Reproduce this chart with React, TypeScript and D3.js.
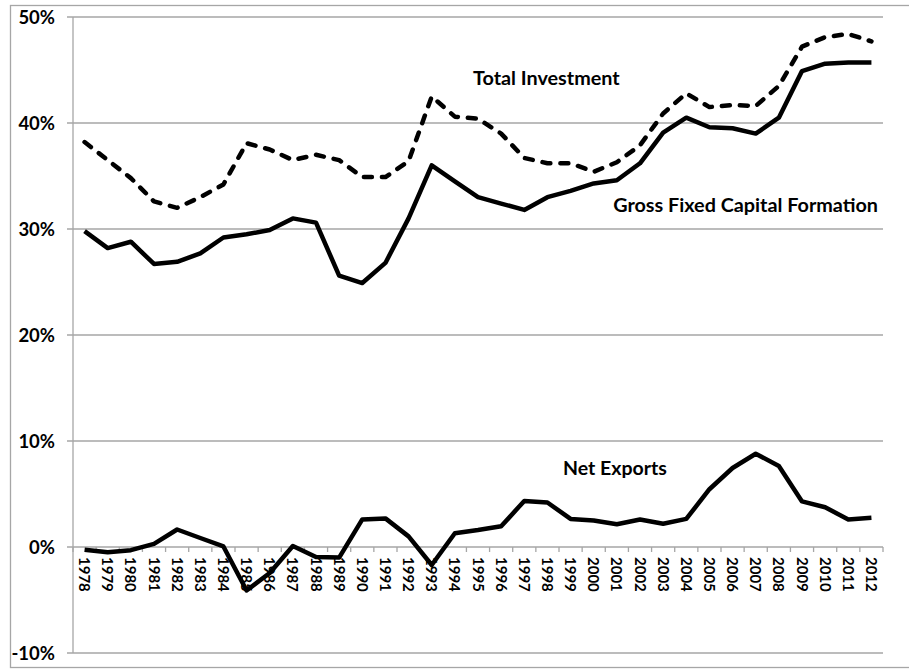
import React from "react";
import * as d3 from "d3";

const years = d3.range(1978, 2013).map(String);

// % of GDP
const totalInvestment = [
  38.2, 36.5, 34.8, 32.6, 32.0, 33.0, 34.2, 38.1, 37.5, 36.5, 37.0, 36.5, 34.9, 34.9, 36.4, 42.5, 40.6,
  40.4, 39.0, 36.7, 36.2, 36.2, 35.4, 36.3, 37.9, 40.9, 42.8, 41.5, 41.7, 41.6, 43.5, 47.2, 48.1, 48.4,
  47.7,
];
const grossFixedCapital = [
  29.8, 28.2, 28.8, 26.7, 26.9, 27.7, 29.2, 29.5, 29.9, 31.0, 30.6, 25.6, 24.9, 26.8, 31.0, 36.0, 34.5,
  33.0, 32.4, 31.8, 33.0, 33.6, 34.3, 34.6, 36.2, 39.1, 40.5, 39.6, 39.5, 39.0, 40.5, 44.9, 45.6, 45.7,
  45.7,
];
const netExports = [
  -0.25, -0.5, -0.3, 0.3, 1.65, 0.85, 0.05, -4.1, -2.45, 0.1, -0.95, -1.0, 2.6, 2.7, 1.0, -1.7, 1.3,
  1.6, 1.95, 4.35, 4.2, 2.65, 2.5, 2.15, 2.6, 2.2, 2.65, 5.45, 7.45, 8.8, 7.65, 4.3, 3.75, 2.6, 2.75,
];
const yTicks = [-10, 0, 10, 20, 30, 40, 50];

const W = 909;
const H = 670;
const margin = { left: 73, right: 26, top: 17, bottom: 17 };

const App = () => {
  const x = d3
    .scaleBand()
    .domain(years)
    .range([margin.left, W - margin.right]);
  const y = d3
    .scaleLinear()
    .domain([-10, 50])
    .range([H - margin.bottom, margin.top]);

  const cx = (i: number) => (x(years[i]) as number) + x.bandwidth() / 2;
  const line = d3
    .line<number>()
    .x((d, i) => cx(i))
    .y((d) => y(d));

  const grid = "#a6a6a6";
  const font = "Lato, 'Open Sans', sans-serif";

  return (
    <svg
      width={W}
      height={H}
      style={{ position: "absolute", left: 0, top: 0, background: "#fff" }}
      fontFamily={font}
    >
      {/* chart border */}
      <rect x={10.5} y={5.5} width={920} height={662} fill="none" stroke={grid} strokeWidth={1.3} />

      {/* gridlines + y labels */}
      {yTicks.map((t) => (
        <g key={t}>
          <line x1={margin.left - 6} x2={W - margin.right} y1={y(t)} y2={y(t)} stroke={grid} strokeWidth={1.3} />
          <text
            x={55}
            y={y(t)}
            dy="0.36em"
            textAnchor="end"
            fontSize={18.5}
            fontWeight="bold"
            fill="#000"
          >
            {t + "%"}
          </text>
        </g>
      ))}
      <line x1={margin.left} x2={margin.left} y1={y(50)} y2={y(-10)} stroke={grid} strokeWidth={1.3} />

      {/* x ticks on the zero line */}
      {years.map((yr) => (
        <line
          key={"t" + yr}
          x1={x(yr) as number}
          x2={x(yr) as number}
          y1={y(0)}
          y2={y(0) + 5}
          stroke={grid}
          strokeWidth={1.3}
        />
      ))}
      <line x1={W - margin.right} x2={W - margin.right} y1={y(0)} y2={y(0) + 5} stroke={grid} strokeWidth={1.3} />

      {/* lines */}
      <path
        d={line(totalInvestment) as string}
        fill="none"
        stroke="#000"
        strokeWidth={4.5}
        strokeDasharray="8 10"
        strokeLinecap="round"
        strokeLinejoin="round"
      />
      <path d={line(grossFixedCapital) as string} fill="none" stroke="#000" strokeWidth={4.5} strokeLinejoin="round" />
      <path d={line(netExports) as string} fill="none" stroke="#000" strokeWidth={4.5} strokeLinejoin="round" />

      {/* year labels, rotated */}
      {years.map((yr, i) => (
        <text
          key={yr}
          transform={`translate(${cx(i)},${y(0) + 10}) rotate(90)`}
          dy="0.36em"
          fontSize={15}
          fontWeight="bold"
          fill="#000"
        >
          {yr}
        </text>
      ))}

      {/* series labels */}
      <text x={473} y={85} fontSize={19.8} fontWeight="bold" fill="#000">
        Total Investment
      </text>
      <text x={878} y={212} fontSize={19.8} fontWeight="bold" fill="#000" textAnchor="end">
        Gross Fixed Capital Formation
      </text>
      <text x={563} y={475} fontSize={19.5} fontWeight="bold" fill="#000">
        Net Exports
      </text>
    </svg>
  );
};

export default App;
